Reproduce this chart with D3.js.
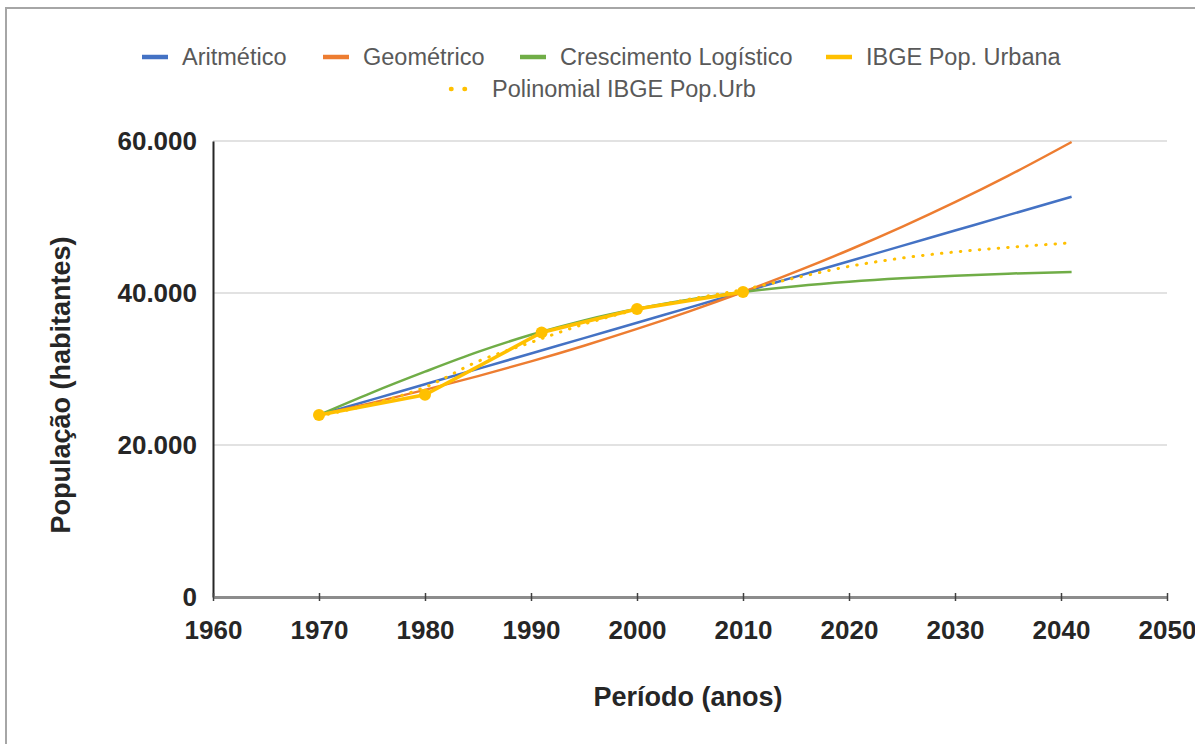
<!DOCTYPE html>
<html>
<head>
<meta charset="utf-8">
<script src="https://cdn.jsdelivr.net/npm/d3@7"></script>
<style>
    body { margin: 0; background: #fff; }
    svg { display: block; }
    text { font-family: "Liberation Sans", Arial, sans-serif; }
</style>
</head>
<body>
<div id="chart"></div>
<script>
// values
let years = [1970, 1975, 1980, 1985, 1990, 1995, 2000, 2005, 2010, 2015, 2020, 2025, 2030, 2035, 2041];
let aritmetico = [23950, 25973, 27995, 30018, 32040, 34063, 36085, 38108, 40130, 42153, 44175, 46198, 48220, 50243, 52670];
let geometrico = [23950, 25546, 27249, 29065, 31002, 33068, 35272, 37623, 40130, 42805, 45658, 48701, 51947, 55409, 59870];
let logistico = [23950, 26900, 29650, 32250, 34500, 36400, 37926, 39156, 40132, 40893, 41483, 41937, 42280, 42546, 42778];
let polinomial = [23800, 25400, 27600, 31000, 33500, 35900, 37800, 39200, 40450, 42000, 43500, 44600, 45400, 46000, 46600];

let ibgeYears = [1970, 1980, 1991, 2000, 2010];
let ibgePop = [23950, 26600, 34800, 37900, 40130];

let xTicks = [1960, 1970, 1980, 1990, 2000, 2010, 2020, 2030, 2040, 2050];
let yTicks = [0, 20000, 40000, 60000];

let legendItems = [
    {name: 'Aritmético', color: '#4472C4', dotted: false},
    {name: 'Geométrico', color: '#ED7D31', dotted: false},
    {name: 'Crescimento Logístico', color: '#70AD47', dotted: false},
    {name: 'IBGE Pop. Urbana', color: '#FFC000', dotted: false},
    {name: 'Polinomial IBGE Pop.Urb', color: '#FFC000', dotted: true}
];

let W = 1195, H = 744;
let svg = d3.select('#chart').append('svg')
    .attr('width', W)
    .attr('height', H);

// frame
svg.append('path')
    .attr('d', 'M6,' + H + 'V8H' + W)
    .attr('fill', 'none')
    .attr('stroke', '#a6a6a6')
    .attr('stroke-width', 2);

let x = d3.scaleLinear().domain([1960, 2050]).range([213, 1167]);
let y = d3.scaleLinear().domain([0, 60000]).range([597, 141]);

let ptBR = d3.formatLocale({decimal: ',', thousands: '.', grouping: [3], currency: ['', '']});
let fmt = ptBR.format(',');

// gridlines
svg.append('g')
    .selectAll('line')
    .data(yTicks.filter(d => d > 0))
    .enter()
    .append('line')
    .attr('x1', x(1960))
    .attr('x2', x(2050))
    .attr('y1', d => y(d))
    .attr('y2', d => y(d))
    .attr('stroke', '#d9d9d9')
    .attr('stroke-width', 1.5);

// y axis
let yAxis = svg.append('g')
    .attr('transform', 'translate(' + x(1960) + ',0)')
    .call(d3.axisLeft(y).tickValues(yTicks).tickSize(0).tickPadding(16).tickFormat(fmt));
yAxis.select('.domain').attr('stroke', '#262626').attr('stroke-width', 2);
yAxis.selectAll('text')
    .attr('font-size', 26)
    .attr('font-weight', 'bold')
    .attr('fill', '#262626');

// x axis
let xAxis = svg.append('g')
    .attr('transform', 'translate(0,' + y(0) + ')')
    .call(d3.axisBottom(x).tickValues(xTicks).tickSize(0).tickPadding(24).tickFormat(d3.format('d')));
xAxis.select('.domain').attr('stroke', '#8c8c8c').attr('stroke-width', 3);
xAxis.selectAll('.tick line')
    .attr('y1', -4)
    .attr('y2', 4)
    .attr('stroke', '#404040')
    .attr('stroke-width', 1.5);
xAxis.selectAll('text')
    .attr('font-size', 26)
    .attr('font-weight', 'bold')
    .attr('fill', '#262626');

// axis titles
svg.append('text')
    .attr('x', 688)
    .attr('y', 706)
    .attr('text-anchor', 'middle')
    .attr('font-size', 27)
    .attr('font-weight', 'bold')
    .attr('fill', '#262626')
    .text('Período (anos)');

svg.append('text')
    .attr('transform', 'translate(70,385) rotate(-90)')
    .attr('text-anchor', 'middle')
    .attr('font-size', 27)
    .attr('font-weight', 'bold')
    .attr('fill', '#262626')
    .text('População (habitantes)');

// series
let smooth = d3.line()
    .x(d => x(d[0]))
    .y(d => y(d[1]))
    .curve(d3.curveMonotoneX);

let series = [
    {vals: aritmetico, color: '#4472C4'},
    {vals: geometrico, color: '#ED7D31'},
    {vals: logistico, color: '#70AD47'}
];

svg.append('g')
    .selectAll('path')
    .data(series)
    .enter()
    .append('path')
    .attr('d', d => smooth(years.map((yr, i) => [yr, d.vals[i]])))
    .attr('fill', 'none')
    .attr('stroke', d => d.color)
    .attr('stroke-width', 2.5);

let ibgeData = ibgeYears.map((yr, i) => [yr, ibgePop[i]]);

svg.append('path')
    .attr('d', d3.line().x(d => x(d[0])).y(d => y(d[1]))(ibgeData))
    .attr('fill', 'none')
    .attr('stroke', '#FFC000')
    .attr('stroke-width', 3.5);

svg.append('g')
    .selectAll('circle')
    .data(ibgeData)
    .enter()
    .append('circle')
    .attr('cx', d => x(d[0]))
    .attr('cy', d => y(d[1]))
    .attr('r', 6)
    .attr('fill', '#FFC000');

svg.append('path')
    .attr('d', smooth(years.map((yr, i) => [yr, polinomial[i]])))
    .attr('fill', 'none')
    .attr('stroke', '#FFC000')
    .attr('stroke-width', 3)
    .attr('stroke-linecap', 'round')
    .attr('stroke-dasharray', '0.5,9');

// legend
let legendPos = [
    {x: 142, y: 57},
    {x: 323, y: 57},
    {x: 520, y: 57},
    {x: 826, y: 57},
    {x: 448, y: 89}
];

let leg = svg.append('g')
    .selectAll('g')
    .data(legendItems)
    .enter()
    .append('g')
    .attr('transform', (d, i) => 'translate(' + legendPos[i].x + ',' + legendPos[i].y + ')');

leg.append('line')
    .attr('x1', 0)
    .attr('x2', 26)
    .attr('stroke', d => d.color)
    .attr('stroke-width', 4.5)
    .attr('stroke-linecap', d => d.dotted ? 'round' : 'butt')
    .attr('stroke-dasharray', d => d.dotted ? '0.5,13' : null)
    .attr('transform', d => d.dotted ? 'translate(3,0)' : null);

leg.append('text')
    .attr('x', (d, i) => i === 4 ? 44 : 40)
    .attr('dy', '0.35em')
    .attr('font-size', 23.5)
    .attr('fill', '#595959')
    .text(d => d.name);
</script>
</body>
</html>
